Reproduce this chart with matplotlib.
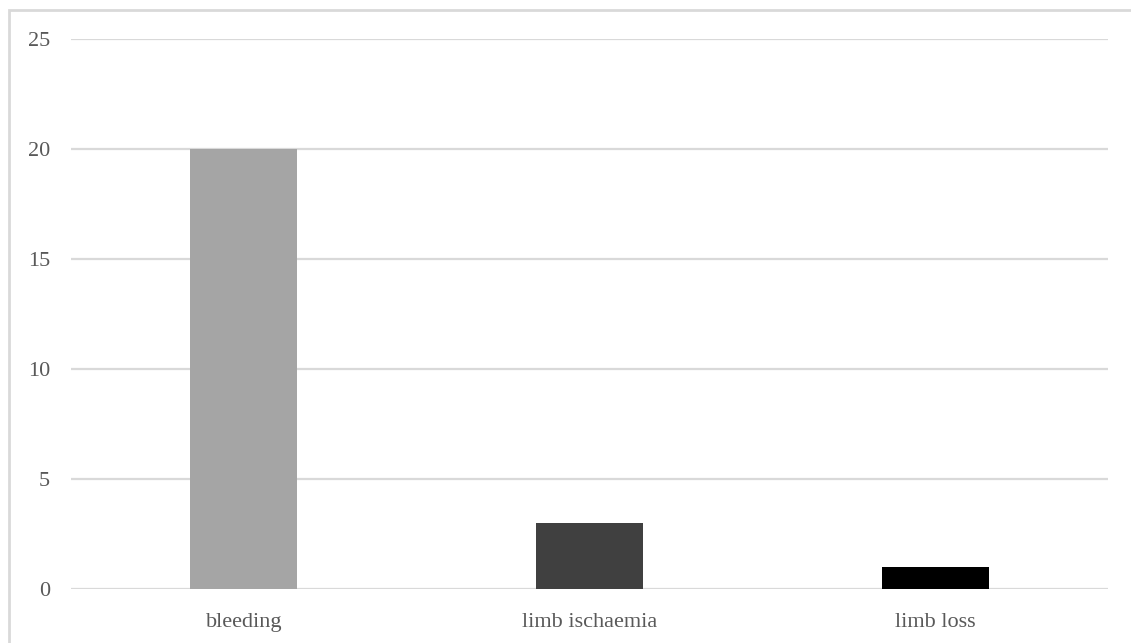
import matplotlib
matplotlib.use("Agg")
import matplotlib.pyplot as plt
from matplotlib.patches import Rectangle

categories = ["bleeding", "limb ischaemia", "limb loss"]
values = [20, 3, 1]
bar_colors = ["#a5a5a5", "#404040", "#000000"]
yticks = [0, 5, 10, 15, 20, 25]

plt.rcParams['font.family'] = ['Liberation Serif', 'DejaVu Serif']

W, H = 1131, 643
fig = plt.figure(figsize=(W / 100, H / 100), dpi=100)
ax = fig.add_axes([71 / W, 1 - 589 / H, (1108 - 71) / W, 550 / H])

x = list(range(len(categories)))
ax.bar(x, values, width=0.31, color=bar_colors, zorder=3)
ax.set_xlim(-0.5, len(categories) - 0.5)
ax.set_ylim(0, 25)
ax.set_yticks(yticks)
ax.set_xticks(x)
ax.set_xticklabels(categories)
ax.grid(axis='y', color='#d9d9d9', linewidth=1.6, zorder=0)
for s in ax.spines.values():
    s.set_visible(False)
ax.tick_params(axis='both', length=0, labelsize=16, labelcolor='#595959')
ax.tick_params(axis='y', pad=15)
ax.tick_params(axis='x', pad=17)

# outer chart border (only left and top visible in the frame)
fig.patches.append(Rectangle((9 / W, -0.1), 1.2, 1 - 10 / H + 0.1,
                             transform=fig.transFigure, fill=False,
                             edgecolor='#d9d9d9', linewidth=2))

fig.savefig("out.png", dpi=100)
